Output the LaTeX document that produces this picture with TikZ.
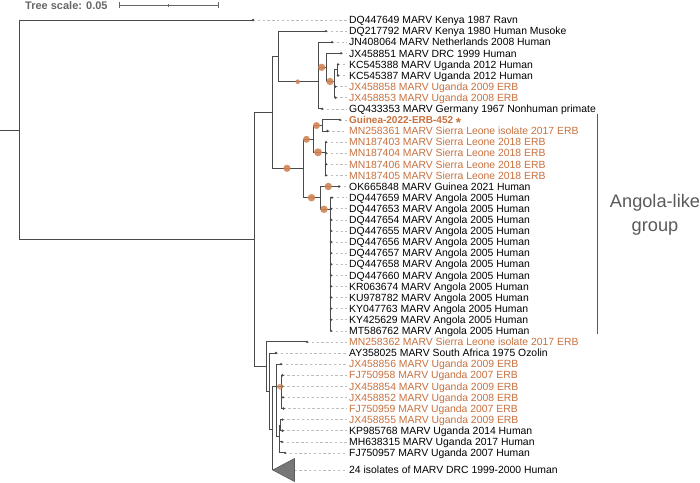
\documentclass[tikz,border=0pt]{standalone}
\usepackage{fontspec}
\setmainfont{Liberation Sans}
\usetikzlibrary{positioning,calc}
\definecolor{branch}{HTML}{4A4A4A}
\definecolor{leader}{HTML}{BDBDBD}
\definecolor{erb}{HTML}{C8703E}
\definecolor{boot}{HTML}{D08455}
\definecolor{note}{HTML}{5A5A5A}
\definecolor{scalegray}{HTML}{666666}
\tikzset{
  br/.style={draw=branch,line width=0.9pt},
  tipdot/.style={circle,fill=branch,inner sep=0pt,minimum size=2.6pt},
  lead/.style={draw=leader,line width=0.5pt,dash pattern=on 2.4pt off 2.4pt},
  lbl/.style={anchor=west,inner sep=0pt,text height=7.5pt,text depth=0pt,font=\fontsize{10.4}{12}\selectfont},
  erblbl/.style={lbl,text=erb},
  newlbl/.style={erblbl,font=\bfseries\fontsize{10}{11}\selectfont},
  bs/.style={circle,fill=boot,fill opacity=0.9,inner sep=0pt,minimum size=#1},
  clade/.style={draw=branch!90,fill=branch!75,line width=0.6pt,line join=miter},
  sbar/.style={draw=scalegray,line width=0.9pt},
  grpbar/.style={draw=note,line width=0.8pt},
}
\begin{document}
\begin{tikzpicture}[x=1pt,y=-1pt]
\useasboundingbox (0,0) rectangle (700,482);
% scale bar
\node[anchor=base west,inner sep=0pt,text=scalegray,font=\bfseries\fontsize{11}{12}\selectfont] (scl) at (25,9) {Tree scale: 0.05};
\coordinate (sb0) at (119,5);
\coordinate (sbm) at (168.5,5);
\coordinate (sb1) at (218,5);
\draw[sbar] (sb0) -- (sb1);
\draw[sbar] ([yshift=-3pt]sb0) -- ([yshift=3pt]sb0);
\draw[sbar] ([yshift=-3pt]sb1) -- ([yshift=3pt]sb1);
\draw[sbar,line width=0.6pt] ([yshift=-1.5pt]sbm) -- ([yshift=1.5pt]sbm);
% leaves
\foreach \i/\tx/\lst/\txt in {
  1/253/lbl/{DQ447649 MARV Kenya 1987 Ravn},
  2/326/lbl/{DQ217792 MARV Kenya 1980 Human Musoke},
  3/332/lbl/{JN408064 MARV Netherlands 2008 Human},
  4/341/lbl/{JX458851 MARV DRC 1999 Human},
  5/338/lbl/{KC545388 MARV Uganda 2012 Human},
  6/338/lbl/{KC545387 MARV Uganda 2012 Human},
  7/335.5/erblbl/{JX458858 MARV Uganda 2009 ERB},
  8/335.5/erblbl/{JX458853 MARV Uganda 2008 ERB},
  9/322/lbl/{GQ433353 MARV Germany 1967 Nonhuman primate},
  10/340/newlbl/{Guinea-2022-ERB-452 \smash{\raisebox{-3.6pt}{\fontsize{13.5}{13.5}\selectfont*}}},
  11/327.5/erblbl/{MN258361 MARV Sierra Leone isolate 2017 ERB},
  12/326/erblbl/{MN187403 MARV Sierra Leone 2018 ERB},
  13/326/erblbl/{MN187404 MARV Sierra Leone 2018 ERB},
  14/326/erblbl/{MN187406 MARV Sierra Leone 2018 ERB},
  15/326/erblbl/{MN187405 MARV Sierra Leone 2018 ERB},
  16/339/lbl/{OK665848 MARV Guinea 2021 Human},
  17/332/lbl/{DQ447659 MARV Angola 2005 Human},
  18/331/lbl/{DQ447653 MARV Angola 2005 Human},
  19/331/lbl/{DQ447654 MARV Angola 2005 Human},
  20/331/lbl/{DQ447655 MARV Angola 2005 Human},
  21/331/lbl/{DQ447656 MARV Angola 2005 Human},
  22/331/lbl/{DQ447657 MARV Angola 2005 Human},
  23/331/lbl/{DQ447658 MARV Angola 2005 Human},
  24/331/lbl/{DQ447660 MARV Angola 2005 Human},
  25/331/lbl/{KR063674 MARV Angola 2005 Human},
  26/331/lbl/{KU978782 MARV Angola 2005 Human},
  27/331/lbl/{KY047763 MARV Angola 2005 Human},
  28/331/lbl/{KY425629 MARV Angola 2005 Human},
  29/331/lbl/{MT586762 MARV Angola 2005 Human},
  30/307/erblbl/{MN258362 MARV Sierra Leone isolate 2017 ERB},
  31/276/lbl/{AY358025 MARV South Africa 1975 Ozolin},
  32/281/erblbl/{JX458856 MARV Uganda 2009 ERB},
  33/282.5/erblbl/{FJ750958 MARV Uganda 2007 ERB},
  34/282.5/erblbl/{JX458854 MARV Uganda 2009 ERB},
  35/283/erblbl/{JX458852 MARV Uganda 2008 ERB},
  36/283.5/erblbl/{FJ750959 MARV Uganda 2007 ERB},
  37/282.5/erblbl/{JX458855 MARV Uganda 2009 ERB},
  38/282.5/lbl/{KP985768 MARV Uganda 2014 Human},
  39/282/lbl/{MH638315 MARV Uganda 2017 Human},
  40/285/lbl/{FJ750957 MARV Uganda 2007 Human}}{
  \coordinate (t\i) at (\tx,{20+(\i-1)*11.1});
  \node[\lst] (l\i) at (349,{20+(\i-1)*11.1}) {\txt};
  \draw[lead] (t\i) -- ([xshift=-2.5pt]l\i.west);
}
% collapsed DRC clade
\coordinate (t41) at (272.7,470);
\coordinate (t41e) at (294.5,470);
\node[lbl] (l41) at (349,470) {24 isolates of MARV DRC 1999-2000 Human};
\draw[lead] (t41e) -- ([xshift=-2.5pt]l41.west);
\draw[clade] (t41) -- ++(21.8,-11.5) -- ++(0,23) -- cycle;
% inner nodes
\coordinate (rootstub) at (0,130);
\coordinate (nR) at (19,130);
\coordinate (nA) at (254,239);
\coordinate (nB) at (272,112);
\coordinate (nD) at (278,56.7);
\coordinate (nF) at (318,81.7);
\coordinate (nH) at (326,67.3);
\coordinate (nI) at (334,81.5);
\coordinate (nJ) at (337.5,69.5);
\coordinate (nE) at (303,168.3);
\coordinate (nL) at (313,139.3);
\coordinate (nM) at (322,125.5);
\coordinate (nN) at (325,152.3);
\coordinate (nP) at (320.5,197.7);
\coordinate (nO) at (330,209.3);
\coordinate (nC) at (266.7,366.7);
\coordinate (nQ) at (269.3,391);
\coordinate (nU) at (272.7,429);
\coordinate (nW) at (276.5,386.7);
\coordinate (nX) at (281.5,386.7);
\coordinate (nY) at (279,436.6);
\coordinate (nZ) at (280.5,425.5);
% branches
\draw[br] (rootstub) -- (nR);
\foreach \p/\c in {nR/t1,nR/nA,nA/nB,nA/nC,nB/nD,nB/nE,nD/t2,nD/nF,
  nF/t3,nF/nH,nF/t9,nH/t4,nH/nI,nI/nJ,nI/t7,nI/t8,nJ/t5,nJ/t6,
  nE/nL,nE/nP,nL/nM,nL/nN,nM/t10,nM/t11,nN/t12,nN/t13,nN/t14,nN/t15,
  nP/t16,nP/nO,nC/t30,nC/nQ,nQ/t31,nQ/nU,nU/nW,nU/t41,
  nW/t32,nW/nX,nW/nY,nX/t33,nX/t34,nX/t35,nX/t36,nY/nZ,nY/t39,nY/t40,nZ/t37,nZ/t38}
  \draw[br] (\p) |- (\c);
\foreach \i in {17,...,29}
  \draw[br] (nO) |- (t\i);
\foreach \i in {1,...,40}
  \node[tipdot] (d\i) at (t\i) {};
% bootstrap support
\foreach \k/\bx/\by/\bd in {1/297.7/81.7/4.6,2/321.7/67.3/7.3,3/330/81.5/7.3,
  4/287/168.3/7.3,5/306.5/139.3/7,6/316.5/125.5/7,7/318/152.3/8,
  8/311.5/197.7/7.5,9/328.3/186.5/7.5,10/324/209.3/7.5}
  \node[bs=\bd pt] (bs\k) at (\bx,\by) {};
\node[bs=6pt,fill opacity=0.7] (bs11) at (280,386.7) {};
% group bracket
\coordinate (gtop) at (597,114);
\coordinate (gbot) at (597,334);
\draw[grpbar] (gtop) -- (gbot);
\node[align=center,text=note,inner sep=0pt,font=\fontsize{18.2}{24}\selectfont] (grp) at (655,215) {Angola-like\\group};
\end{tikzpicture}
\end{document}
